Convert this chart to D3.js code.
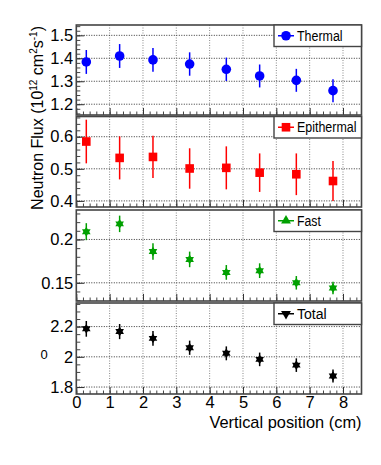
<!DOCTYPE html>
<html>
<head>
<meta charset="utf-8">
<script src="https://cdn.jsdelivr.net/npm/d3@7"></script>
<style>
  body { margin: 0; background: #fff; }
  text { font-family: "Liberation Sans", Arial, sans-serif; fill: #000; }
</style>
</head>
<body>
<div id="chart"></div>
<script>
// measurement positions (cm)
var positions = [0.3, 1.3, 2.3, 3.4, 4.5, 5.5, 6.6, 7.7];

// flux values, 10^12 cm^-2 s^-1
var thermal = [1.384, 1.410, 1.393, 1.375, 1.352, 1.323, 1.304, 1.259];
var thermalErr = [0.052, 0.052, 0.052, 0.051, 0.051, 0.050, 0.050, 0.050];
var epithermal = [0.585, 0.534, 0.537, 0.501, 0.503, 0.488, 0.483, 0.462];
var epithermalErr = [0.068, 0.067, 0.066, 0.063, 0.067, 0.060, 0.065, 0.062];
var fast = [0.209, 0.218, 0.186, 0.177, 0.162, 0.164, 0.150, 0.144];
var fastErr = [0.0098, 0.0095, 0.0095, 0.009, 0.0085, 0.0085, 0.0078, 0.0072];
var total = [2.185, 2.167, 2.122, 2.060, 2.023, 1.983, 1.945, 1.873];
var totalErr = [0.052, 0.050, 0.048, 0.047, 0.046, 0.045, 0.045, 0.043];

var seriesNames = ["Thermal", "Epithermal", "Fast", "Total"];

// tick labels
var thermalTicks = [1.2, 1.3, 1.4, 1.5];
var epithermalTicks = [0.4, 0.5, 0.6];
var fastTicks = [0.15, 0.2];
var totalTicks = [1.8, 2, 2.2];
var xTicks = [0, 1, 2, 3, 4, 5, 6, 7, 8];

var svgWidth = 381, svgHeight = 465;

var svg = d3.select("#chart").append("svg")
  .attr("width", svgWidth)
  .attr("height", svgHeight);

var x = d3.scaleLinear().domain([0, 8.555]).range([76.3, 361.5]);

var panels = [
  { name: seriesNames[0], vals: thermal, errs: thermalErr, top: 25, bottom: 115,
    dom: [1.153, 1.545], ticks: thermalTicks, minor: 0.02, color: "#0000ff", marker: "circle" },
  { name: seriesNames[1], vals: epithermal, errs: epithermalErr, top: 116.5, bottom: 207,
    dom: [0.381, 0.663], ticks: epithermalTicks, minor: 0.02, color: "#ff0000", marker: "square" },
  { name: seriesNames[2], vals: fast, errs: fastErr, top: 210, bottom: 301,
    dom: [0.129, 0.234], ticks: fastTicks, minor: 0.01, color: "#00a000", marker: "up" },
  { name: seriesNames[3], vals: total, errs: totalErr, top: 303, bottom: 394,
    dom: [1.754, 2.356], ticks: totalTicks, minor: 0.05, color: "#000000", marker: "down" }
];

function minorTicks(dom, step) {
  var out = [];
  var start = Math.ceil(dom[0] / step - 1e-6);
  for (var k = start; k * step <= dom[1] + 1e-9; k++) out.push(+(k * step).toFixed(4));
  return out;
}

function drawMarker(g, type, color, cx, cy, legend) {
  if (type == "circle") {
    g.append("circle").attr("cx", cx).attr("cy", cy).attr("r", 4.8).attr("fill", color);
  } else if (type == "square") {
    g.append("rect").attr("x", cx - 4.3).attr("y", cy - 4.3)
      .attr("width", 8.6).attr("height", 8.6).attr("fill", color);
  } else {
    var rot = type == "up" ? 0 : 180;
    if (legend) {
      g.append("path").attr("d", d3.symbol().type(d3.symbolTriangle).size(42)())
        .attr("transform", `translate(${cx},${cy}) rotate(${rot})`)
        .attr("fill", color);
    } else {
      // data points come out star shaped in the original
      [0, 180].forEach(function(r) {
        g.append("path").attr("d", d3.symbol().type(d3.symbolTriangle).size(32)())
          .attr("transform", `translate(${cx},${cy}) rotate(${r})`)
          .attr("fill", color);
      });
    }
  }
}

panels.forEach(function(p, i) {
  var y = d3.scaleLinear().domain(p.dom).range([p.bottom, p.top]);
  var g = svg.append("g");

  // grid
  g.selectAll(".vgrid").data(xTicks.filter(function(d) { return d > 0; }))
    .enter().append("line")
    .attr("x1", function(d) { return x(d); }).attr("x2", function(d) { return x(d); })
    .attr("y1", p.top).attr("y2", p.bottom)
    .attr("stroke", "#888").attr("stroke-width", 1).attr("stroke-dasharray", "1,1.5");
  g.selectAll(".hgrid").data(p.ticks)
    .enter().append("line")
    .attr("x1", x(0)).attr("x2", x(8.555))
    .attr("y1", function(d) { return y(d); }).attr("y2", function(d) { return y(d); })
    .attr("stroke", "#333").attr("stroke-width", 1).attr("stroke-dasharray", "1,1.5");

  // minor ticks
  g.append("g").attr("transform", `translate(${x(0)},0)`)
    .call(d3.axisLeft(y).tickValues(minorTicks(p.dom, p.minor)).tickSize(-4).tickFormat(""))
    .call(function(a) { a.select(".domain").remove(); a.selectAll("line").attr("stroke", "#444"); });
  g.append("g").attr("transform", `translate(0,${p.bottom})`)
    .call(d3.axisBottom(x).tickValues(minorTicks([0, 8.555], 0.2)).tickSize(-3.5).tickFormat(""))
    .call(function(a) { a.select(".domain").remove(); a.selectAll("line").attr("stroke", "#444"); });

  // major ticks + labels
  g.append("g").attr("transform", `translate(${x(0)},0)`)
    .call(d3.axisLeft(y).tickValues(p.ticks).tickSize(-8).tickPadding(3)
      .tickFormat(function(d) { return d3.format("~g")(d); }))
    .call(function(a) {
      a.select(".domain").remove();
      a.selectAll("line").attr("stroke", "#333");
      a.selectAll("text").attr("font-size", "16.5px").attr("fill", "#000")
        .attr("font-family", "Liberation Sans, Arial, sans-serif");
    });
  g.append("g").attr("transform", `translate(0,${p.bottom})`)
    .call(d3.axisBottom(x).tickValues(xTicks).tickSize(-7).tickPadding(2)
      .tickFormat(i == panels.length - 1 ? d3.format("d") : ""))
    .call(function(a) {
      a.select(".domain").remove();
      a.selectAll("line").attr("stroke", "#333");
      a.selectAll("text").attr("font-size", "16.5px").attr("fill", "#000")
        .attr("font-family", "Liberation Sans, Arial, sans-serif");
    });

  // frame
  g.append("rect")
    .attr("x", x(0)).attr("y", p.top)
    .attr("width", x(8.555) - x(0)).attr("height", p.bottom - p.top)
    .attr("fill", "none").attr("stroke", "#444").attr("stroke-width", 1.6);

  // error bars
  g.selectAll(".err").data(p.vals)
    .enter().append("line")
    .attr("x1", function(d, j) { return x(positions[j]); })
    .attr("x2", function(d, j) { return x(positions[j]); })
    .attr("y1", function(d, j) { return y(d - p.errs[j]); })
    .attr("y2", function(d, j) { return y(d + p.errs[j]); })
    .attr("stroke", p.color).attr("stroke-width", 1.5);

  // markers
  p.vals.forEach(function(d, j) {
    drawMarker(g, p.marker, p.color, x(positions[j]), y(d), false);
  });

  // legend
  var lx = 274, lw = x(8.555) - 274, lh = 21.5;
  var leg = g.append("g");
  leg.append("rect").attr("x", lx).attr("y", p.top).attr("width", lw).attr("height", lh)
    .attr("fill", "#fff").attr("stroke", "#444").attr("stroke-width", 1.4);
  var ly = p.top + lh / 2;
  leg.append("line").attr("x1", 278).attr("x2", 294).attr("y1", ly).attr("y2", ly)
    .attr("stroke", p.color).attr("stroke-width", 1.5);
  drawMarker(leg, p.marker, p.color, 286, ly, true);
  leg.append("text").attr("x", 297).attr("y", ly + 5)
    .attr("font-size", "14px")
    .attr("textLength", p.name.length * 5.95 + (p.name == "Thermal" ? 4 : 0))
    .attr("lengthAdjust", "spacingAndGlyphs")
    .text(p.name);
});

// x axis title
svg.append("text")
  .attr("x", 361.5).attr("y", 427.5)
  .attr("text-anchor", "end")
  .attr("font-size", "16.4px")
  .text("Vertical position (cm)");

// y axis title
var yt = svg.append("text")
  .attr("transform", "translate(43,26) rotate(-90)")
  .attr("text-anchor", "end")
  .attr("font-size", "16px");
yt.append("tspan").text("Neutron Flux (10");
yt.append("tspan").attr("font-size", "10px").attr("dy", -6).text("12");
yt.append("tspan").attr("dy", 6).text(" cm");
yt.append("tspan").attr("font-size", "10px").attr("dy", -6).text("2");
yt.append("tspan").attr("dy", 6).text("s");
yt.append("tspan").attr("font-size", "10px").attr("dy", -6).text("-1");
yt.append("tspan").attr("dy", 6).text(")");

// stray label seen left of the lowest panel
svg.append("text")
  .attr("x", 44).attr("y", 359)
  .attr("text-anchor", "middle")
  .attr("font-size", "13px")
  .text("0");
</script>
</body>
</html>
